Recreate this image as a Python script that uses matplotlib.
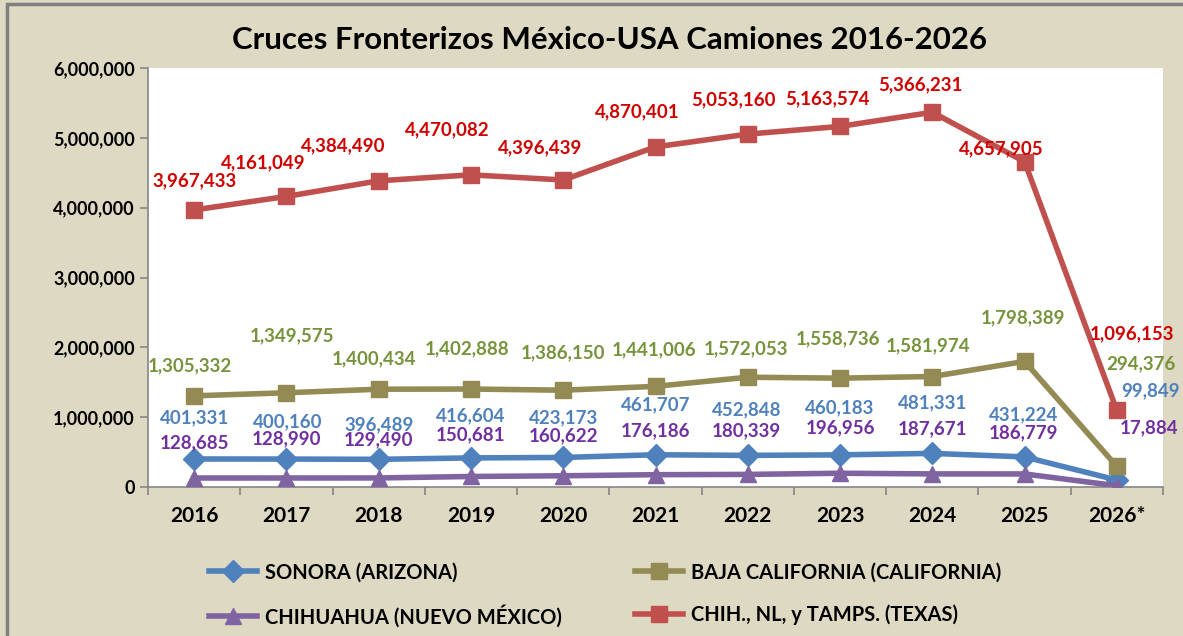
import matplotlib
matplotlib.use('Agg')
import matplotlib.pyplot as plt
from matplotlib.patches import Rectangle
from matplotlib.ticker import FuncFormatter

# Data
years = ['2016', '2017', '2018', '2019', '2020', '2021', '2022', '2023', '2024', '2025', '2026*']
sonora = [401331, 400160, 396489, 416604, 423173, 461707, 452848, 460183, 481331, 431224, 99849]
baja = [1305332, 1349575, 1400434, 1402888, 1386150, 1441006, 1572053, 1558736, 1581974, 1798389, 294376]
chihuahua = [128685, 128990, 129490, 150681, 160622, 176186, 180339, 196956, 187671, 186779, 17884]
texas = [3967433, 4161049, 4384490, 4470082, 4396439, 4870401, 5053160, 5163574, 5366231, 4657905, 1096153]

# label offsets in pixels (dx, dy), positive dy = up
off_texas = [(0, 29), (-23, 34), (-35, 35), (-24, 45), (-23, 32), (-18, 35), (-14, 34), (-13, 28), (-12, 28), (-23, 13), (15, 77)]
off_baja = [(-4, 30), (6, 57), (-5, 30), (-4, 40), (0, 37), (-1, 37), (-2, 28), (-2, 39), (-4, 31), (-2, 44), (24, 103)]
off_sonora = [(0, 41), (1, 37), (0, 35), (0, 42), (0, 40), (0, 50), (-1, 46), (0, 47), (0, 51), (-1, 42), (34, 89)]
off_chih = [(0, 35), (0, 39), (0, 38), (0, 42), (0, 40), (0, 44), (-1, 44), (0, 45), (0, 45), (-1, 41), (32, 58)]

bg = '#DDD9C3'
plt.rcParams['font.family'] = ['Lato', 'DejaVu Sans']

fig = plt.figure(figsize=(11.83, 6.36), dpi=100)
fig.patch.set_facecolor(bg)
fig.patches.append(Rectangle((7 / 1183, -0.1), 1.2, 1.1 - 4 / 636, transform=fig.transFigure,
                             fill=False, edgecolor='#808080', linewidth=2.5, zorder=10))

ax = fig.add_axes([148 / 1183, 149 / 636, 1015 / 1183, 419 / 636])
ax.set_facecolor('white')

x = list(range(len(years)))
series = [
    ('SONORA (ARIZONA)', sonora, '#4F81BD', 'D', 11, '#4F81BD', off_sonora),
    ('BAJA CALIFORNIA (CALIFORNIA)', baja, '#948A54', 's', 12, '#77933C', off_baja),
    ('CHIHUAHUA (NUEVO MÉXICO)', chihuahua, '#8064A2', '^', 12, '#7030A0', off_chih),
    ('CHIH., NL, y TAMPS. (TEXAS)', texas, '#C0504D', 's', 12, '#D00000', off_texas),
]

handles = []
for name, vals, color, marker, ms, lcolor, offs in series:
    h, = ax.plot(x, vals, color=color, marker=marker, markersize=ms, linewidth=4, label=name, zorder=3)
    handles.append(h)
    for xi, v, (dx, dy) in zip(x, vals, offs):
        ax.annotate(f'{v:,}', (xi, v), xytext=(dx, dy), textcoords='offset pixels',
                    ha='center', va='center', color=lcolor, fontsize=13.5, fontweight='bold', zorder=5)

ax.set_xlim(-0.5, 10.5)
ax.set_ylim(0, 6000000)
ax.set_yticks(range(0, 6000001, 1000000))
ax.yaxis.set_major_formatter(FuncFormatter(lambda v, p: f'{int(v):,}'))
ax.set_xticks(x)
ax.set_xticklabels(years)
ax.set_xticks([i - 0.5 for i in range(len(years) + 1)], minor=True)
ax.tick_params(axis='x', which='major', length=0, pad=14, labelsize=15)
ax.tick_params(axis='x', which='minor', length=6, color='#868686', width=1.2)
ax.tick_params(axis='y', length=6, color='#868686', width=1.2, labelsize=13)
for lab in ax.get_xticklabels() + ax.get_yticklabels():
    lab.set_fontweight('bold')

for s in ['top', 'right']:
    ax.spines[s].set_visible(False)
for s in ['left', 'bottom']:
    ax.spines[s].set_color('#868686')
    ax.spines[s].set_linewidth(1.2)

fig.text(609 / 1183, 1 - 40 / 636, 'Cruces Fronterizos México-USA Camiones 2016-2026',
         ha='center', va='center', fontsize=22.5, fontweight='bold')

# row-wise legend order like the reference
leg_order = [handles[0], handles[2], handles[1], handles[3]]
leg = fig.legend(handles=leg_order, loc='center', bbox_to_anchor=(605 / 1183, 1 - 595 / 636), ncol=2,
                 frameon=False, handlelength=2.4, handletextpad=0.4, columnspacing=3.6, labelspacing=1.1,
                 prop={'weight': 'bold', 'size': 14.5})

fig.savefig('out.png', dpi=100, facecolor=bg)
